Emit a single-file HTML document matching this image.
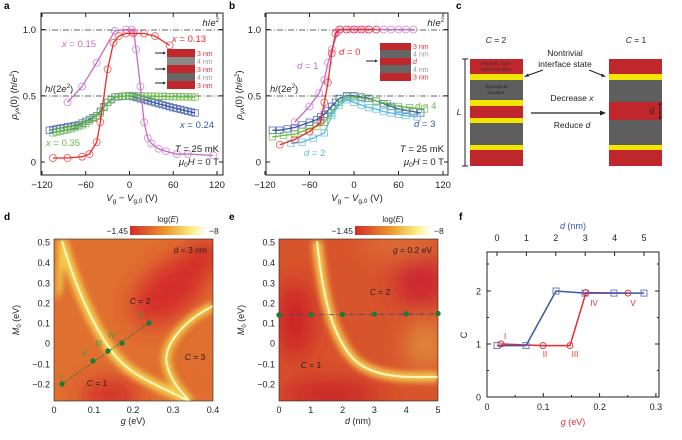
<!DOCTYPE html><html><head><meta charset="utf-8"><style>
body{margin:0;background:#fff}
svg{display:block;font-family:"Liberation Sans",sans-serif}
</style></head><body>
<svg id="s" width="682" height="440" viewBox="0 0 682 440" xmlns="http://www.w3.org/2000/svg">
<defs>
<linearGradient id="cb" x1="0" x2="1"><stop offset="0" stop-color="#d42a2a"/><stop offset="0.5" stop-color="#eea030"/><stop offset="0.8" stop-color="#f8ec80"/><stop offset="1" stop-color="#ffffff"/></linearGradient>
<filter id="bl" x="-50%" y="-50%" width="200%" height="200%"><feGaussianBlur stdDeviation="12"/></filter>
<filter id="gl" x="-20%" y="-20%" width="140%" height="140%"><feGaussianBlur stdDeviation="3"/></filter>
<clipPath id="cd"><rect x="54" y="239" width="159" height="162"/></clipPath>
<clipPath id="ce"><rect x="279" y="239" width="159" height="162"/></clipPath>
</defs>
<g id="g"></g>
</svg>
<script>
const G=document.getElementById('g');let h='';
const T=(x,y,t,o='')=>{h+=`<text x="${x}" y="${y}" ${o}>${t}</text>`};
const L=(a,b,c,d,o='stroke="#222" stroke-width="1"')=>{h+=`<line x1="${a}" y1="${b}" x2="${c}" y2="${d}" ${o}/>`};
function frame(x0,x1,y0,y1){h+=`<rect x="${x0}" y="${y0}" width="${x1-x0}" height="${y1-y0}" fill="none" stroke="#222" stroke-width="1"/>`;}
function ab(off,X){
 const x0=41+off,x1=223+off;frame(x0,x1,13,175);
 [-120,-60,0,60,120].forEach(v=>{let x=X(v);L(x,175,x,171);L(x,13,x,17);T(x,188,v<0?'−'+(-v):v,'font-size="9.5" text-anchor="middle" fill="#222"')});
 [[0,'0'],[0.5,'0.5'],[1,'1.0']].forEach(([r,s])=>{let y=162-r*132.5;L(x0,y,x0+4,y);L(x1,y,x1-4,y);T(x0-5,y+3.5,s,'font-size="9.5" text-anchor="end" fill="#222"')});
 [30,96].forEach(y=>L(x0,y,x1,y,'stroke="#333" stroke-width="0.8" stroke-dasharray="6,2,1,2"'));
 T(x1-4,26,'<tspan font-style="italic">h</tspan>/<tspan font-style="italic">e</tspan><tspan font-size="6" dy="-4">2</tspan>','font-size="9.5" text-anchor="end" fill="#222"');
 T(x0+4,92,'<tspan font-style="italic">h</tspan>/(2<tspan font-style="italic">e</tspan><tspan font-size="6" dy="-4">2</tspan><tspan dy="4">)</tspan>','font-size="9.5" fill="#222"');
 T((x0+x1)/2,201,'<tspan font-style="italic">V</tspan><tspan font-size="6.5" dy="2">g</tspan><tspan dy="-2"> − </tspan><tspan font-style="italic">V</tspan><tspan font-size="6.5" dy="2">g,0</tspan><tspan dy="-2"> (V)</tspan>','font-size="9.5" text-anchor="middle" fill="#222"');
 T(0,0,'<tspan font-style="italic">ρ</tspan><tspan font-size="6.5" dy="2" font-style="italic">yx</tspan><tspan dy="-2">(0) (</tspan><tspan font-style="italic">h</tspan>/<tspan font-style="italic">e</tspan><tspan font-size="6" dy="-3">2</tspan><tspan dy="3">)</tspan>',`font-size="9.5" text-anchor="middle" fill="#222" transform="translate(${off+17},95) rotate(-90)"`);
 T(x1-4,152,'<tspan font-style="italic">T</tspan> = 25 mK','font-size="9.5" text-anchor="end" fill="#222"');
 T(x1-4,165,'<tspan font-style="italic">μ</tspan><tspan font-size="6.5" dy="2">0</tspan><tspan dy="-2" font-style="italic">H</tspan> = 0 T','font-size="9.5" text-anchor="end" fill="#222"');
}
function ser(X,pts,col,shape){
 let p=pts.map(([v,r])=>[X(v),162-r*132.5]);
 h+=`<polyline points="${p.map(q=>q.join(',')).join(' ')}" fill="none" stroke="${col}" stroke-width="1.3"/>`;
 p.forEach(([x,y])=>{if(shape=='c')h+=`<circle cx="${x}" cy="${y}" r="3.5" fill="none" stroke="${col}" stroke-width="0.8" opacity="0.8"/>`;else h+=`<rect x="${x-3.2}" y="${y-3.2}" width="6.4" height="6.4" fill="none" stroke="${col}" stroke-width="0.8" opacity="0.85"/>`});
}
const XA=v=>129.5+v*0.729, XB=v=>354+v*0.742;
const PK='#c66cc6',RD='#ee2a2a',BL='#3a55aa',GR='#66bb44',CY='#55bbdd';
T(4,9,'a','font-size="10" font-weight="bold"');T(229,9,'b','font-size="10" font-weight="bold"');T(456,9,'c','font-size="10" font-weight="bold"');
T(4,220,'d','font-size="10" font-weight="bold"');T(229,220,'e','font-size="10" font-weight="bold"');T(459,220,'f','font-size="10" font-weight="bold"');
ab(0,XA);ab(225,XB);
const st=(a,b,n,f)=>{let r=[];for(let i=0;i<=n;i++){let v=a+(b-a)*i/n;r.push([v,f(v)])}return r};
const interp=(k)=>v=>{for(let i=0;i<k.length-1;i++)if(v<=k[i+1][0]){let t=(v-k[i][0])/(k[i+1][0]-k[i][0]);return k[i][1]+t*(k[i+1][1]-k[i][1])}return k[k.length-1][1]};
ser(XA,st(-110,90,40,interp([[-110,0.24],[-70,0.28],[-45,0.35],[-30,0.45],[-20,0.49],[0,0.5],[20,0.47],[40,0.44],[60,0.41],[90,0.37]])),BL,'s');
ser(XA,st(-105,90,39,interp([[-105,0.22],[-80,0.25],[-60,0.29],[-40,0.37],[-30,0.45],[-22,0.49],[0,0.5],[90,0.49]])),GR,'s');
ser(XA,[[-85,0.45],[-65,0.57],[-45,0.75],[-20,0.99],[-5,1.0],[3,1.0],[6,0.98],[9,0.85],[15,0.57],[20,0.3],[25,0.18],[30,0.14],[40,0.1],[50,0.08],[65,0.06],[80,0.06],[115,0.05]],PK,'c');
ser(XA,[[-105,0.03],[-85,0.03],[-65,0.04],[-55,0.06],[-45,0.15],[-40,0.3],[-30,0.7],[-22,0.9],[-15,0.95],[-5,0.97],[5,0.97],[20,0.97],[35,0.95],[55,0.88]],RD,'c');
T(62,47,'<tspan font-style="italic">x</tspan> = 0.15','font-size="9.5" fill="'+PK+'"');
T(172,42,'<tspan font-style="italic">x</tspan> = 0.13','font-size="9.5" fill="'+RD+'"');
T(180,128,'<tspan font-style="italic">x</tspan> = 0.24','font-size="9.5" fill="'+BL+'"');
T(46,146,'<tspan font-style="italic">x</tspan> = 0.35','font-size="9.5" fill="'+GR+'"');
[[49,'#c0272d'],[57,'#8a8a8a'],[65,'#c0272d'],[73,'#666'],[81,'#c0272d']].forEach(([y,c],i)=>{h+=`<rect x="167" y="${y}" width="28" height="8" fill="${c}"/>`});
[['3 nm',RD],['4 nm','#999'],['3 nm',RD],['4 nm','#999'],['3 nm',RD]].forEach(([t,c],i)=>T(197,56+i*8,t,`font-size="7" fill="${c}"`));
[53,69,83].forEach(y=>{L(155,y,165,y);h+=`<path d="M166 ${y} l-3 -1.5 v3z" fill="#222"/>`});
ser(XB,[[-110,0.24],[-100,0.24],[-90,0.25],[-80,0.26],[-70,0.28],[-60,0.3],[-50,0.32],[-45,0.34],[-40,0.36],[-35,0.39],[-30,0.42],[-25,0.45],[-20,0.48],[-10,0.5],[0,0.5],[10,0.49],[20,0.48],[30,0.46],[40,0.44],[50,0.42],[60,0.4],[70,0.39],[80,0.38],[90,0.37]],BL,'s');
ser(XB,[[-110,0.19],[-95,0.2],[-80,0.21],[-70,0.23],[-60,0.25],[-50,0.27],[-40,0.3],[-30,0.37],[-20,0.45],[-10,0.49],[0,0.49],[15,0.48],[30,0.46],[45,0.44],[60,0.42],[75,0.41],[95,0.4]],GR,'s');
ser(XB,[[-85,0.14],[-70,0.15],[-55,0.18],[-40,0.22],[-30,0.35],[-20,0.43],[-10,0.47],[0,0.45],[10,0.43],[20,0.41],[30,0.4],[40,0.38],[50,0.37],[60,0.36],[70,0.35],[85,0.34]],CY,'s');
ser(XB,[[-80,0.3],[-60,0.42],[-47,0.52],[-40,0.62],[-35,0.75],[-30,0.85],[-22,0.98],[-18,1],[-10,1],[-5,1],[0,1],[5,1],[10,1],[15,1],[20,1],[30,1],[40,1],[50,1],[60,1],[70,1],[80,1]],PK,'c');
ser(XB,[[-100,0.13],[-80,0.17],[-60,0.23],[-45,0.3],[-40,0.45],[-35,0.6],[-30,0.82],[-25,0.97],[-20,1.0],[-10,1],[0,1],[10,1],[20,1],[30,1]],RD,'c');
T(297,69,'<tspan font-style="italic">d</tspan> = 1','font-size="9.5" fill="'+PK+'"');
T(339,55,'<tspan font-style="italic">d</tspan> = 0','font-size="9.5" fill="'+RD+'"');
T(415,109,'<tspan font-style="italic">d</tspan> = 4','font-size="9.5" fill="'+GR+'"');
T(414,127,'<tspan font-style="italic">d</tspan> = 3','font-size="9.5" fill="'+BL+'"');
T(304,156,'<tspan font-style="italic">d</tspan> = 2','font-size="9.5" fill="'+CY+'"');
[[43,'#c0272d'],[50,'#666'],[58,'#c0272d'],[65,'#666'],[73,'#c0272d']].forEach(([y,c])=>{h+=`<rect x="380" y="${y}" width="31" height="${y==43?7:y==58?7:8}" fill="${c}"/>`});
[['3 nm',RD],['4 nm','#999'],['<tspan font-style="italic">d</tspan>',RD],['4 nm','#999'],['3 nm',RD]].forEach(([t,c],i)=>T(413,49+i*7.6,t,`font-size="7" fill="${c}"`));
L(366,61,377,61);h+=`<path d="M378 61 l-3 -1.5 v3z" fill="#222"/>`;
function stack(x,layers){layers.forEach(([a,b,c])=>h+=`<rect x="${x}" y="${a}" width="53" height="${b-a}" fill="${c}"/>`)}
const R='#c0272d',Y='#f2e600',Gy='#5e5e5e';
stack(470,[[59,74,R],[74,80,Y],[80,100,Gy],[100,106,Y],[106,118,R],[118,123,Y],[123,145,Gy],[145,150,Y],[150,166,R]]);
stack(609,[[59,74,R],[74,80,Y],[80,102,Gy],[102,120,R],[120,145,Gy],[145,150,Y],[150,166,R]]);
T(496,43,'<tspan font-style="italic">C</tspan> = 2','font-size="8.5" text-anchor="middle" fill="#222"');
T(636,43,'<tspan font-style="italic">C</tspan> = 1','font-size="8.5" text-anchor="middle" fill="#222"');
T(496,65,'Magnetic topo-','font-size="4.5" text-anchor="middle" fill="#333"');T(496,71,'logical insulator','font-size="4.5" text-anchor="middle" fill="#333"');
T(496,88,'Topological','font-size="4.5" text-anchor="middle" fill="#222"');T(496,94,'insulator','font-size="4.5" text-anchor="middle" fill="#222"');
T(565,56,'Nontrivial','font-size="8.5" text-anchor="middle" fill="#222"');T(565,67,'interface state','font-size="8.5" text-anchor="middle" fill="#222"');
L(543,70,526,76);h+=`<path d="M524 77 l4 -3.5 l1 3z" fill="#222"/>`;L(589,70,604,76);h+=`<path d="M606 77 l-4 -3.5 l-1 3z" fill="#222"/>`;
T(572,101,'Decrease <tspan font-style="italic">x</tspan>','font-size="8.5" text-anchor="middle" fill="#222"');
T(572,128,'Reduce <tspan font-style="italic">d</tspan>','font-size="8.5" text-anchor="middle" fill="#222"');
L(531,113,602,113,'stroke="#222" stroke-width="1.3"');h+=`<path d="M606 113 l-6 -2.5 v5z" fill="#222"/>`;
L(465,59,465,166);L(462,59,468,59);L(462,166,468,166);T(459,115,'<tspan font-style="italic">L</tspan>','font-size="8.5" text-anchor="middle" fill="#222"');
L(660,103,660,119);h+=`<path d="M660 102 l-1.5 3 h3z M660 120 l-1.5 -3 h3z" fill="#222"/>`;T(654,114,'<tspan font-style="italic">d</tspan>','font-size="8.5" text-anchor="end" fill="#222"');
function cbar(x){h+=`<rect x="${x}" y="226" width="76" height="9" fill="url(#cb)"/>`;T(x+38,222,'log(<tspan font-style="italic">E</tspan>)','font-size="8" text-anchor="middle" fill="#222"');T(x-2,234,'−1.45','font-size="8.5" text-anchor="end" fill="#222"');T(x+79,234,'−8','font-size="8.5" fill="#222"')}
cbar(130);cbar(355);
const C1='M62 241 C74 282 90 320 110 349 S160 385 190 402', C2='M213 306 C185 320 162 345 167 365 S185 395 190 402';
h+=`<g clip-path="url(#cd)"><rect x="54" y="239" width="159" height="162" fill="#e07030"/>
<g filter="url(#bl)"><ellipse cx="110" cy="395" rx="30" ry="14" fill="#d0242a"/><ellipse cx="170" cy="290" rx="45" ry="25" fill="#d42a2a" transform="rotate(-40 170 290)"/><ellipse cx="205" cy="255" rx="18" ry="14" fill="#cc2228"/><ellipse cx="195" cy="385" rx="15" ry="25" fill="#e06a30"/></g>
<g filter="url(#gl)"><path d="${C1}" stroke="#f6d050" stroke-width="10" fill="none"/><path d="${C2}" stroke="#f2c848" stroke-width="9" fill="none"/><path d="M58 239 L66 239 L62 290 L56 300Z" fill="#f2c848"/></g>
<path d="${C1}" stroke="#fff7c0" stroke-width="2" fill="none"/><path d="${C2}" stroke="#fff7c0" stroke-width="2" fill="none"/></g>`;
h+=`<rect x="54" y="239" width="159" height="162" fill="none" stroke="#222" stroke-width="0.6"/>`;
const C3='M317 241 C322 290 330 330 350 355 S410 377 438 377';
h+=`<g clip-path="url(#ce)"><rect x="279" y="239" width="159" height="162" fill="#d8542c"/>
<g filter="url(#bl)"><ellipse cx="295" cy="320" rx="18" ry="40" fill="#cc2228"/><ellipse cx="330" cy="395" rx="50" ry="14" fill="#c82026"/><ellipse cx="420" cy="280" rx="25" ry="30" fill="#cc2630"/><ellipse cx="425" cy="345" rx="20" ry="25" fill="#e0883a"/><ellipse cx="400" cy="245" rx="40" ry="10" fill="#e07838"/></g>
<g filter="url(#gl)"><path d="${C3}" stroke="#f4c850" stroke-width="10" fill="none"/></g>
<path d="${C3}" stroke="#fff7c0" stroke-width="2" fill="none"/></g>`;
h+=`<rect x="279" y="239" width="159" height="162" fill="none" stroke="#222" stroke-width="0.6"/>`;
function hmAxes(x0,xt){[[0.5,242],[0.4,262.5],[0.3,283],[0.2,303],[0.1,323],[0,343],[-0.1,364],[-0.2,384]].forEach(([v,y])=>T(x0-4,y+3.5,v<0?'−'+(-v):v,'font-size="9" text-anchor="end" fill="#222"'));xt.forEach(([s,x])=>T(x,413,s,'font-size="9" text-anchor="middle" fill="#222"'));
T(0,0,'<tspan font-style="italic">M</tspan><tspan font-size="6" dy="2">0</tspan><tspan dy="-2"> (eV)</tspan>',`font-size="9" text-anchor="middle" fill="#222" transform="translate(${x0-35},320) rotate(-90)"`)}
hmAxes(54,[['0',54],['0.1',94],['0.2',133],['0.3',173],['0.4',213]]);
hmAxes(279,[0,1,2,3,4,5].map(i=>[i,279+i*31.8]));
T(133,424,'<tspan font-style="italic">g</tspan> (eV)','font-size="9" text-anchor="middle" fill="#222"');
T(358,424,'<tspan font-style="italic">d</tspan> (nm)','font-size="9" text-anchor="middle" fill="#222"');
T(207,253,'<tspan font-style="italic">d</tspan> = 3 nm','font-size="8.5" text-anchor="end" fill="#222"');
T(432,253,'<tspan font-style="italic">g</tspan> = 0.2 eV','font-size="8.5" text-anchor="end" fill="#222"');
T(140,304,'<tspan font-style="italic">C</tspan> = 2','font-size="8.5" text-anchor="middle" fill="#222"');
T(195,360,'<tspan font-style="italic">C</tspan> = 3','font-size="8.5" text-anchor="middle" fill="#222"');
T(97,386,'<tspan font-style="italic">C</tspan> = 1','font-size="8.5" text-anchor="middle" fill="#222"');
T(380,295,'<tspan font-style="italic">C</tspan> = 2','font-size="8.5" text-anchor="middle" fill="#222"');
T(311,368,'<tspan font-style="italic">C</tspan> = 1','font-size="8.5" text-anchor="middle" fill="#222"');
const DG='#1f7a3a',LG='#3a9a3a';
const dp=[[62,384,'I'],[93,361,'II'],[108,351,'III'],[122,343,'IV'],[149,323,'V']];
L(62,384,149,323,`stroke="${DG}" stroke-width="0.9" stroke-dasharray="2,1.5"`);
dp.forEach(([x,y,t],i)=>{h+=`<circle cx="${x}" cy="${y}" r="2.7" fill="${DG}"/>`;T(x-(i?6:0),y-5,t,`font-size="8" text-anchor="${i?'end':'middle'}" fill="${LG}"`)});
L(279,315,438,314,`stroke="#3a4a7a" stroke-width="0.9" stroke-dasharray="5,2,1,2"`);
[0,1,2,3,4,5].forEach(i=>h+=`<circle cx="${279+i*31.8}" cy="${315-i*0.3}" r="2.7" fill="${DG}"/>`);
frame(487,659,252,397);
[[0,397],[1,344],[2,291]].forEach(([v,y])=>{L(487,y,491,y);L(659,y,655,y);T(481,y+3.5,v,'font-size="9" text-anchor="end" fill="#222"')});
[370.5,317.5,264].forEach(y=>{L(487,y,489,y);L(659,y,657,y)});
[0,0.1,0.2,0.3].forEach(g=>{let x=487+g*563;L(x,397,x,393);T(x,410,g==0?'0':g,'font-size="9" text-anchor="middle" fill="#222"')});
[0.05,0.15,0.25].forEach(g=>{let x=487+g*563;L(x,397,x,395)});
[0,1,2,3,4,5].forEach(d=>{let x=497+d*29.4;L(x,252,x,256);T(x,241,d,'font-size="9" text-anchor="middle" fill="#222"')});
T(573,425,'<tspan font-style="italic">g</tspan> (eV)','font-size="9" text-anchor="middle" fill="'+RD+'"');
T(573,229,'<tspan font-style="italic">d</tspan> (nm)','font-size="9" text-anchor="middle" fill="'+BL+'"');
T(0,0,'C',`font-size="9" text-anchor="middle" fill="#222" transform="translate(467,335) rotate(-90)"`);
const yC=c=>397-c*53;
const rp=[[501,1.0],[543,0.97],[570,0.97],[586,1.97],[628,1.96]],bp=[[497,0.97],[526,0.97],[556,2.0],[585,1.96],[614,1.96],[644,1.96]];
h+=`<polyline points="${rp.map(([x,c])=>x+','+yC(c)).join(' ')}" fill="none" stroke="${RD}" stroke-width="1.5"/>`;
h+=`<polyline points="${bp.map(([x,c])=>x+','+yC(c)).join(' ')}" fill="none" stroke="${BL}" stroke-width="1.5"/>`;
bp.forEach(([x,c])=>h+=`<rect x="${x-3}" y="${yC(c)-3}" width="6" height="6" fill="none" stroke="#6070bb" stroke-width="0.9"/>`);
rp.forEach(([x,c])=>h+=`<circle cx="${x}" cy="${yC(c)}" r="3" fill="none" stroke="${RD}" stroke-width="0.9"/>`);
T(504,339,'I','font-size="8" fill="'+RD+'"');T(545,357,'II','font-size="8" text-anchor="middle" fill="'+RD+'"');
T(575,357,'III','font-size="8" text-anchor="middle" fill="'+RD+'"');T(594,306,'IV','font-size="8" text-anchor="middle" fill="'+RD+'"');
T(633,306,'V','font-size="8" text-anchor="middle" fill="'+RD+'"');
G.innerHTML=h;
</script>
</body></html>
